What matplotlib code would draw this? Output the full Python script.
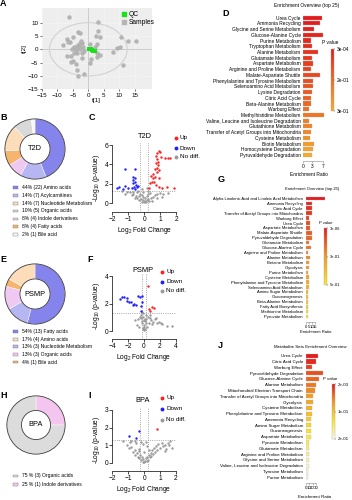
import matplotlib
matplotlib.use('Agg')
import matplotlib.pyplot as plt
from matplotlib.patches import Ellipse, Rectangle, Circle
from matplotlib.lines import Line2D
from matplotlib.colors import LinearSegmentedColormap, Normalize
from matplotlib.cm import ScalarMappable

plt.rcParams['font.family'] = ['Liberation Sans', 'DejaVu Sans']
plt.rcParams['mathtext.fontset'] = 'custom'
plt.rcParams['mathtext.rm'] = 'Liberation Sans'
plt.rcParams['mathtext.default'] = 'rm'
plt.rcParams['axes.linewidth'] = 0.5

# ---------------- data ----------------
# A: PCA scores (t[1], t[2])
pca_samples = [(-6.2, 12.0), (3.0, 10.4), (-3.2, 6.6), (-2.7, 6.2), (3.2, 7.0), (3.75, 4.5),
               (2.4, 5.1), (-4.8, 4.75), (-5.9, 2.9), (-8.0, 1.6), (-7.0, 3.75), (-2.1, 2.5),
               (-2.9, 1.9), (-3.75, 1.4), (-4.6, 1.0), (-3.1, 1.0), (-1.8, 1.0), (-5.4, 0.1),
               (-4.0, -0.25), (-2.7, 0.0), (-3.5, -1.25), (-4.6, -1.5), (-2.1, -1.5), (-7.0, -2.5),
               (-5.7, -2.5), (0.5, 1.9), (2.1, 1.0), (2.7, 1.9), (1.1, -0.25), (2.7, -1.25),
               (3.75, -2.1), (2.7, -3.0), (0.75, -3.75), (0.5, -5.25), (-2.1, -3.4), (-5.0, -4.25),
               (-5.7, -4.6), (-4.0, -5.5), (-3.5, -7.75), (-1.4, -9.25), (-3.2, -10.0), (8.0, -0.9),
               (9.1, 0.4), (10.2, 1.0), (10.4, 4.5), (12.9, 3.25), (15.5, 3.25), (11.25, -5.9),
               (-6.6, 2.9), (-2.5, 3.2), (-1.5, -0.5)]
pca_qc = [(0.3, 0.2), (0.5, 0.0), (1.1, -0.2), (1.6, -0.5), (2.0, -0.6), (0.8, 0.1)]

# B / E / H: chemical classes (legend order)
t2d_labels = ['44% (22) Amino acids', '14% (7) Acylcarnitines', '14% (7) Nucleotide Metabolism',
              '10% (5) Organic acids', '8% (4) Indole derivatives', '8% (4) Fatty acids',
              '2% (1) Bile acid']
t2d_counts = [22, 7, 7, 5, 4, 4, 1]
t2d_colors = ['#8484ec', '#b6b6f3', '#fcdcb9', '#d9d9d9', '#efc9f1', '#f7b46e', '#f7f7f7']
t2d_order = [0, 1, 4, 5, 2, 3, 6]

psmp_labels = ['54% (13) Fatty acids', '17% (4) Amino acids', '13% (3) Nucleotide Metabolism',
               '13% (3) Organic acids', '4% (1) Bile acid']
psmp_counts = [13, 4, 3, 3, 1]
psmp_colors = ['#8484ec', '#fcdcb9', '#b6b6f3', '#efc9f1', '#f7b46e']
psmp_order = [0, 2, 3, 4, 1]

bpa_labels = ['75 % (3) Organic acids', '25 % (1) Indole derivatives']
bpa_counts = [3, 1]
bpa_colors = ['#dcdcdc', '#f4c6ef']
bpa_order = [1, 0]

# C / F / I: volcano (log2 FC, -log10 p)
t2d_up = [(0.9, 5.4), (0.81, 5.2), (0.98, 5.3), (0.73, 4.9), (0.81, 4.6), (1.06, 4.8), (1.29, 4.7),
          (1.5, 4.7), (1.63, 4.7), (0.73, 4.1), (0.85, 3.9), (0.81, 3.6), (0.94, 3.4), (0.77, 3.25),
          (0.52, 3.0), (0.42, 2.8), (0.69, 2.7), (0.56, 2.56), (0.94, 2.56), (0.46, 2.2), (0.35, 2.05),
          (0.6, 2.2), (0.73, 1.88), (0.29, 1.6), (1.08, 1.6), (1.44, 1.67), (1.88, 1.6), (0.9, 1.7),
          (0.65, 3.5), (0.88, 4.3)]
t2d_down = [(-1.21, 3.5), (-0.58, 3.55), (-0.69, 2.7), (-0.58, 2.56), (-0.69, 2.4), (-0.58, 2.2),
            (-0.73, 2.05), (-0.52, 1.88), (-0.65, 1.7), (-0.48, 1.7), (-0.79, 1.54), (-1.56, 1.7),
            (-1.21, 1.77), (-1.35, 1.47), (-1.73, 1.54), (-1.0, 1.54), (-0.58, 1.47), (-0.38, 1.8)]
t2d_ns = [(-1.42, 1.26), (-1.1, 1.2), (-0.69, 1.2), (-0.48, 1.13), (-0.27, 0.99), (-0.17, 0.85),
          (-0.06, 0.68), (0.04, 0.58), (0.15, 0.75), (0.25, 0.92), (0.35, 1.09), (-0.31, 0.72),
          (-0.44, 0.58), (-0.58, 0.51), (-0.23, 0.44), (-0.1, 0.34), (0.04, 0.24), (0.15, 0.31),
          (0.25, 0.44), (0.4, 0.51), (0.56, 0.68), (0.67, 0.85), (0.77, 0.92), (0.98, 1.02),
          (-0.9, 1.13), (-0.79, 0.85), (-0.02, 0.1), (-0.17, 0.17), (0.1, 0.1), (-0.35, 0.31),
          (-0.52, 0.75), (-0.69, 0.92), (-0.38, 1.25), (-0.06, 1.19), (-0.15, 1.47), (0.15, 1.6),
          (0.77, 0.51), (0.46, 0.24), (1.08, 0.68), (1.19, 0.92), (1.5, 1.02), (-1.2, 1.0),
          (0.2, 1.3), (0.3, 0.2)]

psmp_up = [(0.51, 3.25), (0.64, 1.57), (0.98, 1.77), (1.32, 1.7), (0.77, 1.45)]
psmp_down = [(-3.06, 2.36), (-2.77, 2.48), (-2.55, 2.45), (-2.09, 2.41), (-2.17, 2.22), (-1.87, 2.1),
             (-1.7, 2.1), (-1.45, 1.93), (-1.23, 2.0), (-1.02, 1.93), (-0.72, 2.55), (-0.51, 2.5),
             (-0.3, 2.53), (-0.3, 2.13), (-0.34, 1.81), (-0.34, 1.45)]
psmp_ns = [(-0.55, 1.04), (-0.72, 0.85), (-0.34, 1.16), (-0.13, 1.29), (-0.04, 0.8), (-0.2, 0.56),
           (0.0, 0.32), (-0.13, 0.12), (0.13, 0.17), (0.2, 0.56), (0.3, 0.85), (0.5, 1.04),
           (0.72, 0.92), (0.93, 0.8), (1.14, 0.68), (1.36, 0.85), (1.65, 0.56), (1.9, 0.68),
           (2.1, 0.6), (2.9, 0.36), (3.5, 0.4), (-0.89, 0.44), (-0.2, 1.4), (-0.1, 1.0), (0.1, 0.9),
           (-0.05, 0.05), (0.05, 0.45), (-0.3, 0.7), (0.2, 1.2), (0.6, 0.6), (0.4, 0.3), (-0.6, 0.3),
           (1.0, 0.5), (1.5, 0.95), (2.3, 0.5), (-1.1, 0.8), (0.8, 1.15), (-0.15, 0.25), (0.15, 0.7),
           (-0.4, 0.95)]

bpa_up = [(0.81, 1.9)]
bpa_down = [(-0.94, 1.51), (-0.52, 1.38), (-0.31, 1.83)]
bpa_ns = [(-1.1, 1.0), (-0.95, 0.85), (-0.8, 0.9), (-0.7, 0.6), (-0.6, 0.75), (-0.55, 0.45),
          (-0.45, 0.55), (-0.4, 0.35), (-0.35, 0.65), (-0.3, 0.25), (-0.25, 0.45), (-0.2, 0.15),
          (-0.15, 0.3), (-0.1, 0.05), (-0.05, 0.2), (0.0, 0.02), (0.05, 0.12), (0.1, 0.25),
          (0.15, 0.08), (0.2, 0.35), (0.25, 0.18), (0.3, 0.45), (0.35, 0.3), (0.4, 0.55),
          (0.45, 0.4), (0.5, 0.7), (0.55, 0.5), (0.6, 0.85), (0.7, 0.6), (0.75, 0.95), (0.8, 0.75),
          (0.9, 1.05), (1.0, 0.85), (1.1, 1.15), (1.2, 0.95), (1.3, 1.0), (1.4, 0.8), (1.5, 1.15),
          (1.6, 1.25), (1.3, 0.65), (-1.3, 1.25), (-0.8, 1.25), (-0.2, 1.2), (-0.1, 1.05),
          (0.1, 1.2), (0.2, 0.95), (0.0, 0.6), (-0.3, 0.8), (0.3, 0.75), (-0.5, 1.1), (-0.9, 1.2),
          (-0.6, 1.23), (1.72, 0.82), (1.57, 1.0)]

# D / G / J: enrichment
d_names = ['Urea Cycle', 'Ammonia Recycling', 'Glycine and Serine Metabolism', 'Glucose-Alanine Cycle',
           'Purine Metabolism', 'Tryptophan Metabolism', 'Alanine Metabolism', 'Glutamate Metabolism',
           'Aspartate Metabolism', 'Arginine and Proline Metabolism', 'Malate-Aspartate Shuttle',
           'Phenylalanine and Tyrosine Metabolism', 'Selenoamino Acid Metabolism', 'Lysine Degradation',
           'Citric Acid Cycle', 'Beta-Alanine Metabolism', 'Warburg Effect', 'Methylhistidine Metabolism',
           'Valine, Leucine and Isoleucine Degradation', 'Glutathione Metabolism',
           'Transfer of Acetyl Groups into Mitochondria', 'Cysteine Metabolism', 'Biotin Metabolism',
           'Homocysteine Degradation', 'Pyruvaldehyde Degradation']
d_ratio = [6.4, 5.8, 3.6, 6.9, 2.8, 2.9, 5.2, 3.0, 3.4, 2.8, 5.9, 3.3, 3.3, 2.9, 2.8, 2.7, 2.0, 7.3,
           2.1, 3.0, 2.8, 2.3, 3.6, 3.4, 3.0]
d_p = [0.0003, 0.004, 0.01, 0.015, 0.025, 0.035, 0.045, 0.055, 0.065, 0.075, 0.085, 0.095, 0.11,
       0.12, 0.13, 0.145, 0.16, 0.175, 0.19, 0.205, 0.22, 0.24, 0.26, 0.28, 0.3]

g_names = ['Alpha Linolenic Acid and Linoleic Acid Metabolism', 'Ammonia Recycling', 'Citric Acid Cycle',
           'Transfer of Acetyl Groups into Mitochondria', 'Warburg Effect', 'Urea Cycle',
           'Aspartate Metabolism', 'Malate-Aspartate Shuttle', 'Pyruvaldehyde Degradation',
           'Glutamate Metabolism', 'Glucose-Alanine Cycle', 'Arginine and Proline Metabolism',
           'Alanine Metabolism', 'Betaine Metabolism', 'Glycolysis', 'Purine Metabolism',
           'Cysteine Metabolism', 'Phenylalanine and Tyrosine Metabolism', 'Selenoamino Acid Metabolism',
           'Amino Sugar Metabolism', 'Gluconeogenesis', 'Beta-Alanine Metabolism',
           'Fatty Acid Biosynthesis', 'Methionine Metabolism', 'Pyruvate Metabolism']
g_ratio = [29.5, 10.0, 10.0, 10.5, 5.7, 6.7, 6.2, 10.4, 10.4, 4.7, 7.8, 4.1, 6.2, 5.2, 5.2, 3.6,
           4.7, 4.7, 4.7, 4.1, 3.6, 3.6, 3.1, 3.1, 3.1]
g_p = [0.000003, 0.02, 0.04, 0.06, 0.08, 0.1, 0.12, 0.14, 0.16, 0.18, 0.2, 0.22, 0.24, 0.26, 0.28,
       0.3, 0.32, 0.34, 0.36, 0.38, 0.41, 0.44, 0.47, 0.5, 0.54]

j_names = ['Urea Cycle', 'Citric Acid Cycle', 'Warburg Effect', 'Pyruvaldehyde Degradation',
           'Glucose-Alanine Cycle', 'Alanine Metabolism', 'Mitochondrial Electron Transport Chain',
           'Transfer of Acetyl Groups into Mitochondria', 'Glycolysis', 'Cysteine Metabolism',
           'Phenylalanine and Tyrosine Metabolism', 'Ammonia Recycling', 'Amino Sugar Metabolism',
           'Gluconeogenesis', 'Aspartate Metabolism', 'Pyruvate Metabolism', 'Glutamate Metabolism',
           'Arginine and Proline Metabolism', 'Glycine and Serine Metabolism',
           'Valine, Leucine and Isoleucine Degradation', 'Tyrosine Metabolism', 'Purine Metabolism']
j_ratio = [36, 31, 17, 50, 39, 29, 26, 21, 21, 19, 19, 15, 15, 14, 14, 11, 11, 10, 10, 10, 8, 7]
j_p = [0.002, 0.01, 0.02, 0.03, 0.04, 0.05, 0.06, 0.07, 0.08, 0.09, 0.1, 0.11, 0.12, 0.13, 0.14,
       0.15, 0.16, 0.17, 0.18, 0.19, 0.195, 0.2]

# ---------------- layout helpers ----------------
W, H = 352, 500
fig = plt.figure(figsize=(W / 100, H / 100), dpi=100)


def fx(x):
    return x / W


def fy(y):
    return 1 - y / H


def box(l, t, r, b):
    return fig.add_axes([l / W, 1 - b / H, (r - l) / W, (b - t) / H])


def letter(s, x, y):
    fig.text(fx(x), fy(y), s, fontsize=6.5, fontweight='bold', ha='center', va='center')


def dot(x, y, c, marker='o', ms=1.8):
    fig.add_artist(Line2D([fx(x)], [fy(y)], marker=marker, ms=ms, color=c, lw=0,
                          transform=fig.transFigure))


# ---------------- A: PCA ----------------
ax = box(41.7, 8.3, 151.7, 89.3)
ax.set_facecolor('#eeeeee')
ax.set_xlim(-15, 20.4)
ax.set_ylim(-15, 15.4)
ax.grid(True, color='white', ls=':', lw=0.5)
ax.set_axisbelow(True)
ax.axhline(0, color='#b0b0b0', lw=0.4, zorder=1)
ax.axvline(0, color='#b0b0b0', lw=0.4, zorder=1)
ax.add_patch(Ellipse((0, 0), 25, 20, fill=False, ec='#d2d2d2', lw=0.8, zorder=1))
sx, sy = zip(*pca_samples)
ax.scatter(sx, sy, s=8, color='#b5b5b5', edgecolor='#a0a0a0', lw=0.2, zorder=3)
qx, qy = zip(*pca_qc)
ax.scatter(qx, qy, s=6, marker='s', color='#19e019', lw=0, zorder=4)
ax.set_xticks([-15, -10, -5, 0, 5, 10, 15])
ax.set_yticks([-15, -10, -5, 0, 5, 10])
ax.tick_params(labelsize=4.5, length=1.5, width=0.4, pad=1)
for s in ax.spines.values():
    s.set_visible(False)
ax.set_xlabel('t[1]', fontsize=4.5, labelpad=0.5)
ax.set_ylabel('t[2]', fontsize=4.5, labelpad=0.5)
dot(124, 14, '#19e019', marker='s', ms=2.6)
dot(124, 22, '#b5b5b5', marker='s', ms=2.6)
fig.text(fx(129), fy(14), 'QC', fontsize=4.8, va='center')
fig.text(fx(129), fy(22), 'Samples', fontsize=4.8, va='center')


# ---------------- donuts ----------------
def donut(l, t, r, b, counts, colors, order, name):
    ax = box(l, t, r, b)
    ax.pie([counts[i] for i in order], colors=[colors[i] for i in order], startangle=90,
           counterclock=False, radius=1, wedgeprops=dict(width=0.5, edgecolor='white', lw=0.3))
    ax.add_patch(Circle((0, 0), 1, fill=False, ec='#3a3a3a', lw=0.6))
    ax.add_patch(Circle((0, 0), 0.5, fill=False, ec='#3a3a3a', lw=0.6))
    ax.text(0, 0, name, ha='center', va='center', fontsize=5.3)
    ax.set_xlim(-1.03, 1.03)
    ax.set_ylim(-1.03, 1.03)


def pie_legend(labels, colors, y0, dy):
    for i, (lab, col) in enumerate(zip(labels, colors)):
        y = y0 + i * dy
        fig.patches.append(Rectangle((fx(12.5), fy(y + 1.4)), 5.5 / W, 2.8 / H, fc=col, ec='#777777',
                                     lw=0.3, transform=fig.transFigure))
        fig.text(fx(21.5), fy(y), lab, fontsize=3.6, va='center')


donut(4, 118, 66, 180, t2d_counts, t2d_colors, t2d_order, 'T2D')
pie_legend(t2d_labels, t2d_colors, 187.3, 7.9)
donut(4, 263, 66, 325, psmp_counts, psmp_colors, psmp_order, 'PSMP')
pie_legend(psmp_labels, psmp_colors, 331.7, 7.6)
donut(6, 395, 66, 455, bpa_counts, bpa_colors, bpa_order, 'BPA')
pie_legend(bpa_labels, bpa_colors, 476, 8.7)


# ---------------- volcanoes ----------------
def volcano(l, t, r, b, xlim, ylim, xticks, yticks, up, down, ns, title, title_xy, leg_x, leg_y):
    ax = box(l, t, r, b)
    for pts, c in [(ns, '#9a9a9a'), (down, '#1f1fff'), (up, '#ff2020')]:
        px, py = zip(*pts)
        ax.scatter(px, py, s=3, color=c, lw=0, clip_on=False, zorder=3)
    for v in [-0.26, 0.26]:
        ax.axvline(v, ls=':', color='#8a8a8a', lw=0.6, zorder=1)
    ax.axhline(1.3, ls=':', color='#8a8a8a', lw=0.6, zorder=1)
    ax.set_xlim(*xlim)
    ax.set_ylim(*ylim)
    ax.set_xticks(xticks)
    ax.set_yticks(yticks)
    ax.spines['top'].set_visible(False)
    ax.spines['right'].set_visible(False)
    ax.spines['left'].set_bounds(yticks[0], yticks[-1])
    ax.spines['bottom'].set_bounds(xticks[0], xticks[-1])
    ax.tick_params(labelsize=4.8, length=2, width=0.5, pad=1)
    ax.set_xlabel('Log$_2$ Fold Change', fontsize=4.8, labelpad=1)
    ax.set_ylabel('-Log$_{10}$ (p-value)', fontsize=4.8, labelpad=1.5)
    fig.text(fx(title_xy[0]), fy(title_xy[1]), title, fontsize=5.3, ha='center', va='center')
    for i, (lab, c) in enumerate([('Up', '#ff2020'), ('Down', '#1f1fff'), ('No diff.', '#9a9a9a')]):
        dot(leg_x, leg_y[i], c)
        fig.text(fx(leg_x + 4), fy(leg_y[i]), lab, fontsize=4.6, va='center')


volcano(112.3, 143.1, 176.3, 212, (-2, 2), (-0.9, 6.2), [-2, -1, 0, 1, 2], [0, 2, 4, 6],
        t2d_up, t2d_down, t2d_ns, 'T2D', (145, 137), 176, [138, 148, 157])
volcano(112.3, 273.3, 175.7, 339, (-4, 4), (-0.58, 4.2), [-4, -2, 0, 2, 4], [0, 2, 4],
        psmp_up, psmp_down, psmp_ns, 'PSMP', (143, 271), 162.3, [272, 281.5, 291])
volcano(112.3, 408.2, 176, 471, (-2, 2), (-0.47, 3.1), [-2, -1, 0, 1, 2], [0, 1, 2, 3],
        bpa_up, bpa_down, bpa_ns, 'BPA', (143, 400), 162.3, [398, 409, 419.5])


# ---------------- enrichment bars ----------------
def enrich(rect, names, ratio, p, colors, vmin, vmax, xmax, xticks, fs, title, title_xy,
           cb_rect, pv_xy, xl_xy):
    ax = box(*rect)
    cmap = LinearSegmentedColormap.from_list('pv', colors)
    norm = Normalize(vmin, vmax)
    n = len(names)
    ax.barh(range(n), ratio, height=0.72, color=cmap(norm(p)), edgecolor='#b0b0b0', lw=0.25)
    ax.set_ylim(n - 0.5, -0.5)
    ax.set_xlim(0, xmax)
    ax.set_yticks(range(n))
    ax.set_yticklabels(names, fontsize=fs)
    ax.set_xticks(xticks)
    ax.tick_params(axis='y', length=0, pad=2)
    ax.tick_params(axis='x', labelsize=fs, length=1.2, width=0.4, pad=1, color='#888888')
    for s in ['top', 'right', 'left']:
        ax.spines[s].set_visible(False)
    ax.spines['bottom'].set_bounds(xticks[0], xticks[-1])
    ax.spines['bottom'].set_position(('outward', 2))
    ax.spines['bottom'].set_linewidth(0.4)
    ax.spines['bottom'].set_color('#888888')
    fig.text(fx(title_xy[0]), fy(title_xy[1]), title, fontsize=fs, ha='center', va='center')
    fig.text(fx(xl_xy[0]), fy(xl_xy[1]), 'Enrichment Ratio', fontsize=fs, ha='center', va='center')
    cax = box(*cb_rect)
    cb = fig.colorbar(ScalarMappable(norm, cmap), cax=cax)
    mid = (vmin + vmax) / 2
    cb.set_ticks([vmin, mid, vmax])
    cb.set_ticklabels(['%.0e' % v for v in [vmin, mid, vmax]])
    cax.invert_yaxis()
    cb.outline.set_linewidth(0.3)
    cb.outline.set_edgecolor('#aaaaaa')
    cax.tick_params(labelsize=fs, length=1, width=0.3, pad=1)
    fig.text(fx(pv_xy[0]), fy(pv_xy[1]), 'P value', fontsize=fs, ha='center', va='center')


enrich((303.3, 14.8, 324.8, 157.9), d_names, d_ratio, d_p, ['#e41a1c', '#ef6a1e', '#f6ab2a'],
       0.0003, 0.3, 7.5, [0, 3, 7], 3.5, 'Enrichment Overview (top 25)', (307, 6),
       (331.3, 49.3, 333.8, 110.7), (330, 42.7), (309, 174))
enrich((305.7, 195.9, 324.9, 319.1), g_names, g_ratio, g_p, ['#e41a1c', '#f39a1f', '#fbe62a'],
       0.000003, 0.54, 30, [0, 5, 10, 15], 3.0, 'Enrichment Overview (top 25)', (312, 189),
       (324, 228.3, 327.5, 285), (326, 222.7), (316, 332))
enrich((305.7, 352.8, 323.6, 480.2), j_names, j_ratio, j_p,
       ['#e41a1c', '#f39a1f', '#fbe62a', '#fbf8e8'],
       0.002, 0.2, 52, [0, 10, 20, 30], 3.2, 'Metabolite Sets Enrichment Overview', (310, 346.7),
       (332, 384.3, 335.3, 439), (330, 378.7), (315, 497))

# ---------------- panel letters ----------------
for s, x, y in [('A', 3.3, 4), ('B', 3.3, 118), ('C', 91.7, 118), ('D', 225.3, 13.3),
                ('E', 3.3, 260), ('F', 90, 260), ('G', 221, 180), ('H', 3.3, 395),
                ('I', 90, 395), ('J', 220, 346)]:
    letter(s, x, y)

fig.savefig('out.png', dpi=100)
